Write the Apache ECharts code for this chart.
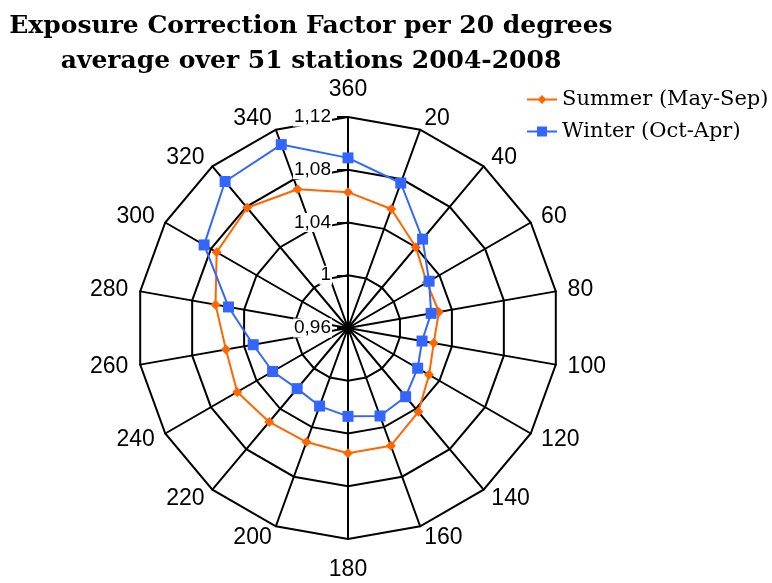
<!DOCTYPE html>
<html>
<head>
<meta charset="utf-8">
<script src="https://cdn.jsdelivr.net/npm/echarts@6/dist/echarts.min.js"></script>
<style>html,body{margin:0;padding:0;background:#fff;}#chart{width:772px;height:583px;}</style>
</head>
<body>
<div id="chart"></div>
<script>
// Directions (degrees), clockwise from top
const directions = ['360','20','40','60','80','100','120','140','160','180','200','220','240','260','280','300','320','340'];
const summer = [1.063,1.056,1.040,1.029,1.030,1.026,1.031,1.043,1.055,1.055,1.052,1.053,1.057,1.054,1.062,1.075,1.079,1.072];
const winter = [1.089,1.077,1.048,1.031,1.024,1.017,1.021,1.028,1.031,1.027,1.023,1.020,1.026,1.033,1.052,1.086,1.105,1.108];
const radialMin = 0.96, radialMax = 1.12, radialSplits = 4;
const seriesNames = ['Summer (May-Sep)', 'Winter (Oct-Apr)'];

// ECharts radar places indicators counter-clockwise; reorder so directions run clockwise
const order = [0].concat(directions.map((_, i) => i).slice(1).reverse());
const fmt = v => Number(v.toFixed(2)).toString().replace('.', ',');

const labelStyle = {formatter: fmt, color: '#000', fontFamily: 'Liberation Sans', fontSize: 19,
  margin: 16, backgroundColor: '#fff', padding: [0, 1]};

const chart = echarts.init(document.getElementById('chart'), null, {renderer: 'canvas'});
chart.setOption({
  animation: false,
  backgroundColor: '#fff',
  title: {
    text: 'Exposure Correction Factor per 20 degrees\naverage over 51 stations 2004-2008',
    left: 306, top: 4, textAlign: 'center',
    textStyle: {fontFamily: 'DejaVu Serif', fontWeight: 'bold', fontSize: 25, lineHeight: 35, color: '#000'}
  },
  legend: {
    orient: 'vertical', left: 522, top: 84, itemGap: 11, itemWidth: 30, itemHeight: 10,
    textStyle: {fontFamily: 'DejaVu Serif', fontSize: 21, color: '#000'},
    data: [
      {name: seriesNames[0], icon: 'path://M0,4.1h30v1.8h-30z M15,0.5l4.5,4.5l-4.5,4.5l-4.5,-4.5z'},
      {name: seriesNames[1], icon: 'path://M0,4.1h30v1.8h-30z M10,0h10v10h-10z'}
    ]
  },
  radar: {
    center: [348, 328], radius: 211, startAngle: 90, shape: 'polygon', splitNumber: radialSplits,
    indicator: order.map((k, j) => {
      const ind = {name: directions[k], min: radialMin, max: radialMax};
      if (j === 0) {
        ind.axisLabel = Object.assign({show: true}, labelStyle);
        ind.axisTick = {show: true, length: 11, lineStyle: {color: '#000', width: 2}};
        ind.nameGap = 16;
      }
      if (directions[k] === '180') ind.nameGap = 19;
      return ind;
    }),
    axisName: {color: '#000', fontFamily: 'Liberation Sans', fontSize: 23},
    nameGap: 12,
    splitLine: {lineStyle: {color: '#000', width: 2}},
    splitArea: {show: false},
    axisLine: {lineStyle: {color: '#000', width: 2}},
    axisLabel: Object.assign({show: false}, labelStyle),
    axisTick: {show: false}
  },
  series: [{
    type: 'radar',
    data: [
      {name: seriesNames[0], value: order.map(k => summer[k]), symbol: 'diamond', symbolSize: 10,
       lineStyle: {color: '#FF6600', width: 2}, itemStyle: {color: '#FF6600'}},
      {name: seriesNames[1], value: order.map(k => winter[k]), symbol: 'rect', symbolSize: 11,
       lineStyle: {color: '#3366FF', width: 2}, itemStyle: {color: '#3366FF'}}
    ]
  }]
});
</script>
</body>
</html>
